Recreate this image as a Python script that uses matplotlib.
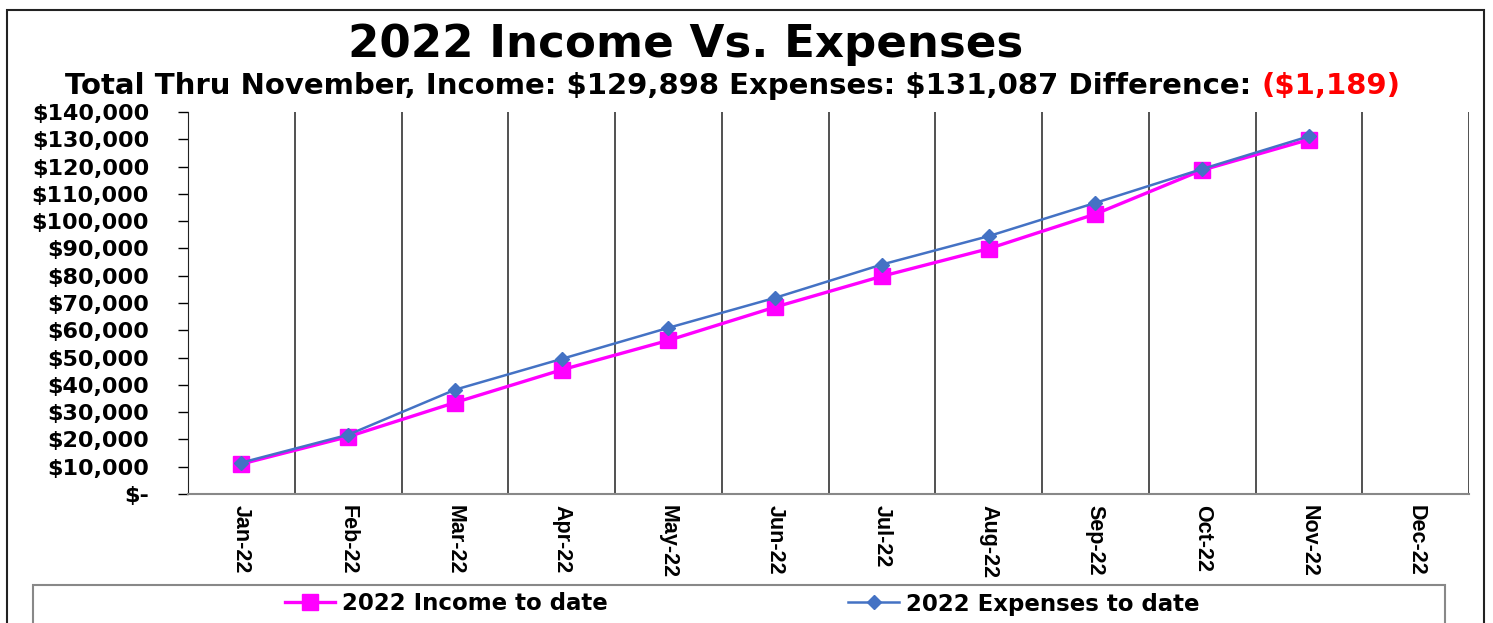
import numpy as np
import matplotlib.pyplot as plt
from matplotlib.patches import Rectangle

plt.rcParams['font.family'] = ['DejaVu Sans']
plt.rcParams['font.weight'] = 'bold'

# data
months = ['Jan-22', 'Feb-22', 'Mar-22', 'Apr-22', 'May-22', 'Jun-22',
          'Jul-22', 'Aug-22', 'Sep-22', 'Oct-22', 'Nov-22', 'Dec-22']
income = [11000, 21000, 33500, 45500, 56300, 68500, 79800, 89900, 102600, 118700, 129898]
expenses = [11500, 21700, 38200, 49500, 60900, 71900, 84100, 94500, 106700, 119100, 131087]
y_ticks = list(range(0, 140001, 10000))

title = '2022 Income Vs. Expenses'
subtitle = r'Total Thru November, Income: \$129,898 Expenses: \$131,087 Difference: '
diff_text = r'(\$1,189)'

W, H = 1493, 623
fig = plt.figure(figsize=(W / 100, H / 100), dpi=100)
ax = fig.add_axes([188 / W, 1 - 494 / H, (1469 - 188) / W, (494 - 112) / H])

x = np.arange(len(months))
ax.plot(x[:len(income)], income, color='#FF00FF', lw=2.4, marker='s', ms=12,
        label='2022 Income to date', zorder=3)
ax.plot(x[:len(expenses)], expenses, color='#4472C4', lw=1.8, marker='D', ms=7,
        label='2022 Expenses to date', zorder=4)

ax.set_xlim(-0.5, len(months) - 0.5)
ax.set_ylim(0, 140000)
ax.set_xticks(x)
ax.set_xticklabels(months, rotation=270, fontsize=15.5, fontweight='bold',
                   family=['Liberation Sans Narrow', 'Liberation Sans'])
ax.set_xticks(np.arange(len(months)) + 0.5, minor=True)
ax.tick_params(axis='x', which='both', length=0, pad=8)
ax.grid(True, axis='x', which='minor', color='#222222', lw=1.1)

ax.set_yticks(y_ticks)
ax.set_yticklabels(['$-' if v == 0 else f'${v:,.0f}' for v in y_ticks],
                   fontsize=16, fontweight='bold')
ax.tick_params(axis='y', length=7, width=1, pad=21, direction='out')

ax.spines['top'].set_visible(False)
ax.spines['right'].set_visible(False)
ax.spines['left'].set_color('#222222')
ax.spines['bottom'].set_color('#888888')
ax.spines['bottom'].set_linewidth(1.5)

fig.text(686 / W, 1 - 45 / H, title, ha='center', va='center', fontsize=32.5, fontweight='bold')
t1 = fig.text(58 / W, 1 - 86 / H, subtitle, ha='left', va='center', fontsize=21, fontweight='bold')
t2 = ax.annotate(diff_text, xy=(1, 0.5), xycoords=t1, va='center', ha='left',
                 fontsize=21, fontweight='bold', color='#FF0000', annotation_clip=False)

# outer chart border and legend box (both run off the bottom edge)
fig.patches.append(Rectangle((7 / W, -0.1), (1484 - 7) / W, 1.1 - 10 / H,
                             transform=fig.transFigure, fill=False, ec='#222222', lw=1.5))
fig.patches.append(Rectangle((33 / W, -0.1), (1445 - 33) / W, 0.1 + (623 - 585) / H,
                             transform=fig.transFigure, fill=False, ec='#888888', lw=1.5))

handles, labels = ax.get_legend_handles_labels()
fig.legend(handles, labels, loc='center', bbox_to_anchor=(742 / W, 1 - 604 / H), ncol=2,
           frameon=False, columnspacing=10.5, handlelength=2.2, handletextpad=0.3,
           prop={'weight': 'bold', 'size': 16.5})

# center the two-colour subtitle line around x = 733 px
fig.canvas.draw()
r = fig.canvas.get_renderer()
left = t1.get_window_extent(r).x0
right = t2.get_window_extent(r).x1
t1.set_x((58 + 733 - (left + right) / 2) / W)

fig.savefig('out.png', dpi=100)
